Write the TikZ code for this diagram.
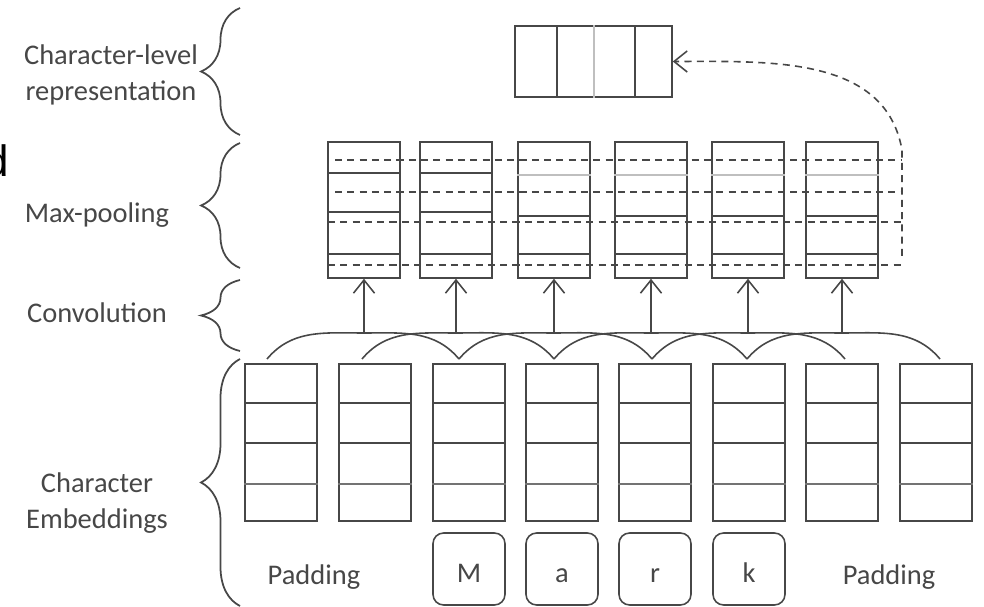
\documentclass[tikz,border=0pt]{standalone}
\usepackage{fontspec}
\setmainfont{Carlito}
\newfontfamily\cutfont{Liberation Sans}
\usetikzlibrary{positioning,calc,arrows.meta,decorations.pathreplacing}

\begin{document}
\begin{tikzpicture}[x=0.02cm, y=0.02cm, color=black!72, line width=0.9pt,
    embbox/.style={draw, minimum width=1.44cm, minimum height=3.14cm, inner sep=0},
    poolbox/.style={draw, minimum width=1.44cm, minimum height=2.72cm, inner sep=0},
    charbox/.style={draw, rounded corners=6pt, minimum width=1.44cm, minimum height=1.44cm, inner sep=0, text height=15pt, text depth=0pt},
    layertext/.style={align=center, font=\fontsize{16.2}{20.5}\selectfont},
    softline/.style={black!25, line width=1.6pt},
    midline/.style={black!55, line width=1.1pt},
    poolline/.style={dash pattern=on 4pt off 3pt},
    convedge/.style={-{Straight Barb[length=7.5pt,width=12pt]}},
    layerbrace/.style={decorate, decoration={brace, amplitude=0.78cm}, line width=1pt}
]
\useasboundingbox (0,0) rectangle (984,-607);

\node[anchor=base west, inner sep=0, text=black, font=\fontsize{25}{25}\selectfont\cutfont] (cut) at (-16,-177) {d};

\node[layertext] (chartext) at (111,-75) {Character-level\\representation};
\node[layertext] (pooltext) at (97,-215) {Max-pooling};
\node[layertext] (convtext) at (97,-313) {Convolution};
\node[layertext] (embtext)  at (97,-503) {Character\\Embeddings};

\draw[layerbrace] (240,-135) -- (240,-8);
\draw[layerbrace] (240,-268) -- (240,-143);
\draw[layerbrace] (240,-351) -- (240,-280);
\draw[layerbrace] (240,-606) -- (240,-359);

\node[draw, minimum width=3.14cm, minimum height=1.42cm, inner sep=0] (rep) at (593.5,-61.5) {};
\draw (rep.north -| 557,0) -- (rep.south -| 557,0);
\draw[softline] (rep.north -| 594,0) -- (rep.south -| 594,0);
\draw (rep.north -| 635,0) -- (rep.south -| 635,0);

\node[poolbox] (p1) at (364,-210) {};
\node[poolbox] (p2) at (456,-210) {};
\node[poolbox] (p3) at (554,-210) {};
\node[poolbox] (p4) at (651,-210) {};
\node[poolbox] (p5) at (748,-210) {};
\node[poolbox] (p6) at (842,-210) {};
\foreach \i in {1,2} {
    \draw (p\i.west |- 0,-173) -- (p\i.east |- 0,-173);
    \draw (p\i.west |- 0,-212) -- (p\i.east |- 0,-212);
    \draw (p\i.west |- 0,-254) -- (p\i.east |- 0,-254);
}
\foreach \i in {3,...,6} {
    \draw[softline] (p\i.west |- 0,-175) -- (p\i.east |- 0,-175);
    \draw (p\i.west |- 0,-216) -- (p\i.east |- 0,-216);
    \draw (p\i.west |- 0,-254) -- (p\i.east |- 0,-254);
}

\node[embbox] (e1) at (281,-442.5) {};
\node[embbox] (e2) at (375,-442.5) {};
\node[embbox] (e3) at (469,-442.5) {};
\node[embbox] (e4) at (562,-442.5) {};
\node[embbox] (e5) at (655,-442.5) {};
\node[embbox] (e6) at (749,-442.5) {};
\node[embbox] (e7) at (842,-442.5) {};
\node[embbox] (e8) at (936,-442.5) {};
\foreach \i in {1,...,8} {
    \draw (e\i.west |- 0,-403) -- (e\i.east |- 0,-403);
    \draw (e\i.west |- 0,-443) -- (e\i.east |- 0,-443);
    \draw[midline] (e\i.west |- 0,-484) -- (e\i.east |- 0,-484);
}

\node[layertext] (pad1) at (314,-577) {Padding};
\node[charbox, layertext] (cm) at (469,-569) {M};
\node[charbox, layertext] (ca) at (562,-569) {a};
\node[charbox, layertext] (cr) at (655,-569) {r};
\node[charbox, layertext] (ck) at (749,-569) {k};
\node[layertext] (pad2) at (889,-577) {Padding};

\coordinate (a0) at (267,-359);
\coordinate (a1) at (362,-359);
\coordinate (a2) at (459,-359);
\coordinate (a3) at (554,-359);
\coordinate (a4) at (652,-359);
\coordinate (a5) at (747,-359);
\coordinate (a6) at (845,-359);
\coordinate (a7) at (940,-359);
\coordinate (k1) at (p1.south |- 0,-333);
\coordinate (k2) at (p2.south |- 0,-333);
\coordinate (k3) at (p3.south |- 0,-333);
\coordinate (k4) at (p4.south |- 0,-333);
\coordinate (k5) at (p5.south |- 0,-333);
\coordinate (k6) at (p6.south |- 0,-333);

\draw (a0) to[out=50,in=180] (k1) to[out=0,in=130] (a2);
\draw (a1) to[out=50,in=180] (k2) to[out=0,in=130] (a3);
\draw (a2) to[out=50,in=180] (k3) to[out=0,in=130] (a4);
\draw (a3) to[out=50,in=180] (k4) to[out=0,in=130] (a5);
\draw (a4) to[out=50,in=180] (k5) to[out=0,in=130] (a6);
\draw (a5) to[out=50,in=180] (k6) to[out=0,in=130] (a7);

\path[convedge]
    (k1) edge (p1)
    (k2) edge (p2)
    (k3) edge (p3)
    (k4) edge (p4)
    (k5) edge (p5)
    (k6) edge (p6);

\coordinate (m1l) at (335,-160);
\coordinate (m2l) at (335,-192);
\coordinate (m3l) at (328,-222);
\coordinate (m4l) at (328,-265);
\coordinate (mr) at (902,-256);
\coordinate (mt) at (902,-150);
\draw[poolline] (m1l) -- (m1l -| mr);
\draw[poolline] (m2l) -- (m2l -| mr);
\draw[poolline] (m3l) -- (m3l -| mr);
\draw[poolline] (m4l) -- (m4l -| mr);
\draw[poolline, convedge] (mr) -- (mt) to[out=100,in=0] (rep.east);
\end{tikzpicture}
\end{document}
